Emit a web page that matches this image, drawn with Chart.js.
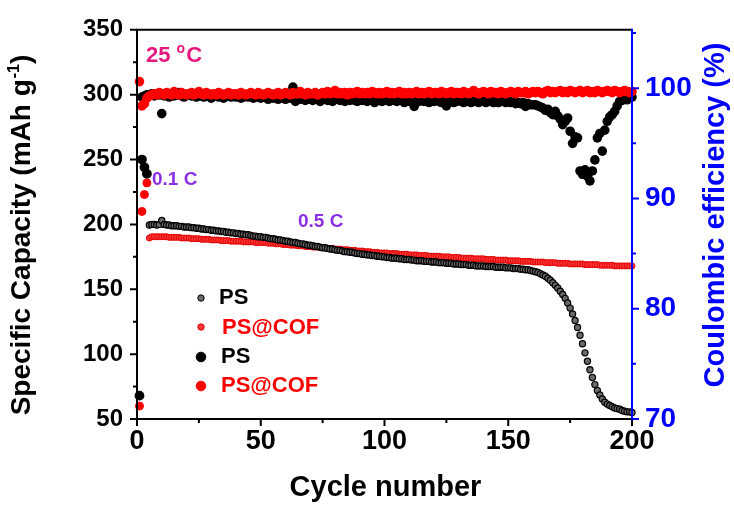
<!DOCTYPE html>
<html>
<head>
<meta charset="utf-8">
<script src="https://cdn.jsdelivr.net/npm/chart.js@4.4.0/dist/chart.umd.min.js"></script>
<style>
html,body{margin:0;padding:0;background:#fff;}
#wrap{width:734px;height:509px;position:relative;}
</style>
</head>
<body>
<div id="wrap"><canvas id="c" width="734" height="509"></canvas></div>
<script>
// ---------- DATA ----------
const cycles = Array.from({length: 200}, (_, i) => i + 1);

// Specific capacity (mAh g-1), PS
const psCapacity = [
  68, 250, 244, 239, 199.5, 200, 200, 199.5, 200, 203,
  200, 199.5, 199.5, 199, 199, 199, 198.5, 198.5, 198, 198,
  198, 197.5, 197.5, 197, 197, 196.5, 196.5, 196, 196, 195.5,
  195.5, 195, 195, 194.5, 194.5, 194, 194, 193.5, 193.5, 193,
  193, 192.5, 192.5, 192, 192, 191.5, 191, 191, 190.5, 190.5,
  190, 190, 189.5, 189, 189, 188.5, 188, 188, 187.5, 187,
  187, 186.5, 186, 186, 185.5, 185, 185, 184.5, 184, 184,
  183.5, 183, 183, 182.5, 182, 182, 181.5, 181, 181, 180.5,
  180, 180, 179.5, 179, 179, 178.5, 178.5, 178, 177.5, 177.5,
  177, 177, 176.5, 176.5, 176, 176, 175.5, 175.5, 175, 175,
  174.5, 174.5, 174, 174, 174, 173.5, 173.5, 173, 173, 173,
  172.5, 172.5, 172, 172, 172, 171.5, 171.5, 171.5, 171, 171,
  171, 170.5, 170.5, 170.5, 170, 170, 170, 169.5, 169.5, 169.5,
  169, 169, 169, 168.5, 168.5, 168.5, 168, 168, 168, 168,
  167.5, 167.5, 167.5, 167.5, 167, 167, 167, 167, 166.5, 166.5,
  166.5, 166, 166, 166, 165.5, 165.5, 165, 165, 164.5, 164,
  163.5, 163, 162, 161, 160, 158.5, 157, 155, 153, 151,
  148.5, 146, 143, 139.5, 135.5, 131, 126, 120.5, 114.5, 108,
  101, 94.5, 88, 82, 76.5, 72, 68.5, 65.5, 63, 61.5,
  60.5, 59.5, 58.5, 58, 57.5, 56.5, 56, 55.5, 55.5, 55
];

// Specific capacity (mAh g-1), PS@COF
const cofCapacity = [
  60, 210, 223, 232, 189.5, 190.5, 190.5, 190.5, 190.5, 190.5,
  190.5, 190.5, 190, 190, 190, 190, 190, 189.5, 189.5, 189.5,
  189.5, 189, 189, 189, 189, 188.5, 188.5, 188.5, 188.5, 188,
  188, 188, 188, 187.5, 187.5, 187.5, 187.5, 187, 187, 187,
  187, 187, 186.5, 186.5, 186.5, 186.5, 186.5, 186, 186, 186,
  186, 186, 185.5, 185.5, 185.5, 185, 185, 185, 184.5, 184.5,
  184.5, 184, 184, 184, 183.5, 183.5, 183.5, 183, 183, 183,
  182.5, 182.5, 182.5, 182, 182, 182, 181.5, 181.5, 181.5, 181,
  181, 181, 180.5, 180.5, 180.5, 180, 180, 180, 179.5, 179.5,
  179.5, 179, 179, 179, 178.5, 178.5, 178.5, 178, 178, 178,
  178, 177.5, 177.5, 177.5, 177.5, 177, 177, 177, 177, 176.5,
  176.5, 176.5, 176.5, 176, 176, 176, 176, 175.5, 175.5, 175.5,
  175.5, 175.5, 175, 175, 175, 175, 174.5, 174.5, 174.5, 174.5,
  174, 174, 174, 174, 174, 173.5, 173.5, 173.5, 173.5, 173.5,
  173, 173, 173, 173, 172.5, 172.5, 172.5, 172.5, 172.5, 172,
  172, 172, 172, 172, 171.5, 171.5, 171.5, 171.5, 171.5, 171,
  171, 171, 171, 171, 170.5, 170.5, 170.5, 170.5, 170.5, 170,
  170, 170, 170, 170, 169.5, 169.5, 169.5, 169.5, 169.5, 169.5,
  169, 169, 169, 169, 169, 169, 168.5, 168.5, 168.5, 168.5,
  168.5, 168.5, 168, 168, 168, 168, 168, 168, 168, 168
];

// Coulombic efficiency (%), PS
const psEfficiency = [
  null, 99.2, 99.3, 99.4, 99.4, 99.5, 99.3, 99.5, 99.4, 97.7,
  99.3, 99.4, 99.2, 99.5, 99.3, 99.4, 99.6, 99.3, 99.2, 99.4,
  99.5, 99.3, 99.4, 99.2, 99.6, 99.3, 99.2, 99.4, 99.3, 99.1,
  99.3, 99.4, 99.2, 99.3, 99.1, 99.4, 99.3, 99.2, 99.4, 99.2,
  99.3, 99.1, 99.2, 99.4, 99.2, 99.3, 99.1, 99.2, 99.3, 99.1,
  99.2, 99.3, 99.0, 99.2, 99.1, 99.3, 99.0, 99.2, 99.1, 99.0,
  99.2, 99.1, 100.1, 98.8, 99.1, 99.0, 99.2, 98.9, 99.1, 99.0,
  98.9, 99.1, 99.0, 98.8, 99.0, 99.1, 98.9, 99.0, 98.8, 99.0,
  99.1, 98.9, 99.0, 98.8, 99.0, 98.9, 99.1, 98.9, 98.8, 99.0,
  98.9, 99.0, 98.8, 99.0, 98.9, 98.7, 99.0, 98.9, 98.8, 99.0,
  98.9, 98.8, 99.0, 98.9, 98.8, 99.0, 98.9, 98.7, 98.9, 98.8,
  98.9, 98.35, 98.9, 98.8, 99.0, 98.8, 98.9, 98.7, 98.9, 98.8,
  98.9, 98.8, 98.7, 98.9, 98.4, 98.8, 98.9, 98.7, 98.8, 98.9,
  98.8, 98.7, 98.9, 98.8, 98.7, 98.9, 98.8, 98.7, 98.8, 98.9,
  98.7, 98.8, 98.9, 98.7, 98.8, 98.7, 98.8, 98.9, 98.7, 98.8,
  98.7, 98.8, 98.6, 98.7, 98.6, 98.7, 98.35, 98.6, 98.5, 98.5,
  98.5, 98.4, 98.3, 98.2, 98.0, 98.1, 97.8, 97.6, 97.9, 97.5,
  97.2, 96.7, 97.0, 97.3, 96.1, 95.0, 95.6, 95.5, 92.5, 92.2,
  92.6, 92.0, 91.6, 92.5, 93.5, 95.5, 95.9, 94.3, 96.2, 97.0,
  97.4, 97.6, 97.9, 98.4, 98.8, 98.9, 99.0, 98.95, 99.25, 99.2
];

// Coulombic efficiency (%), PS@COF
const cofEfficiency = [
  100.6, 98.4, 98.6, 99.1, 99.3, 99.4, 99.5, 99.4, 99.6, 99.5,
  99.4, 99.6, 99.5, 99.4, 99.7, 99.5, 99.4, 99.6, 99.5, 99.4,
  99.5, 99.6, 99.4, 99.5, 99.7, 99.5, 99.4, 99.6, 99.5, 99.4,
  99.5, 99.4, 99.6, 99.5, 99.4, 99.5, 99.6, 99.4, 99.5, 99.5,
  99.4, 99.6, 99.5, 99.4, 99.5, 99.6, 99.5, 99.4, 99.6, 99.5,
  99.4, 99.5, 99.6, 99.5, 99.4, 99.5, 99.6, 99.4, 99.5, 99.6,
  99.5, 99.4, 99.6, 99.5, 99.5, 99.7, 99.5, 99.4, 99.6, 99.5,
  99.5, 99.6, 99.4, 99.5, 99.6, 99.5, 99.7, 99.5, 99.6, 99.8,
  99.5, 99.6, 99.5, 99.6, 99.4, 99.6, 99.5, 99.6, 99.7, 99.5,
  99.6, 99.5, 99.6, 99.5, 99.7, 99.6, 99.5, 99.6, 99.5, 99.6,
  99.7, 99.5, 99.6, 99.5, 99.6, 99.7, 99.5, 99.6, 99.5, 99.6,
  99.5, 99.6, 99.7, 99.5, 99.6, 99.5, 99.6, 99.7, 99.5, 99.6,
  99.6, 99.5, 99.7, 99.6, 99.5, 99.6, 99.7, 99.5, 99.6, 99.6,
  99.5, 99.7, 99.6, 99.5, 99.6, 99.8, 99.6, 99.5, 99.6, 99.7,
  99.6, 99.5, 99.7, 99.6, 99.6, 99.5, 99.7, 99.6, 99.5, 99.6,
  99.7, 99.6, 99.5, 99.7, 99.6, 99.6, 99.7, 99.5, 99.6, 99.7,
  99.6, 99.7, 99.6, 99.5, 99.7, 99.8, 99.6, 99.7, 99.6, 99.7,
  99.8, 99.6, 99.7, 99.6, 99.8, 99.7, 99.6, 99.7, 99.8, 99.6,
  99.7, 99.8, 99.6, 99.7, 99.6, 99.8, 99.7, 99.6, 99.7, 99.8,
  99.7, 99.6, 99.8, 99.7, 99.6, 99.7, 99.8, 99.7, 99.6, 99.7
];

// Axis ticks
const xMajorTicks = [0, 50, 100, 150, 200];
const xMinorTicks = [25, 75, 125, 175];
const capMajorTicks = [50, 100, 150, 200, 250, 300, 350];
const capMinorTicks = [75, 125, 175, 225, 275, 325];
const ceMajorTicks = [70, 80, 90, 100];
const ceMinorTicks = [75, 85, 95, 105];

// Texts
const seriesNames = ['PS', 'PS@COF', 'PS', 'PS@COF'];
const xTitle = 'Cycle number';
const yTitleMain = 'Specific Capacity (mAh g';
const yTitleSup = '-1';
const yTitleEnd = ')';
const y2Title = 'Coulombic efficiency (%)';
const tempLabel = ['25 ', 'o', 'C'];
const rateLabels = ['0.1 C', '0.5 C'];

// ---------- CHART ----------
const FONT = '"Liberation Sans", Arial, sans-serif';
const BLUE = '#0000ff';
const RED = '#ff0000';
const PURPLE = '#8b2fe6';
const MAGENTA = '#e6177d';
const PS_BALL = '#6a6a6a';
const COF_BALL = '#ff3a3a';

const toPts = arr => cycles.map((c, i) => ({x: c, y: arr[i]})).filter(p => p.y !== null);

const deco = {
  id: 'deco',
  afterDraw(chart) {
    const {ctx, chartArea: a, scales} = chart;
    const x = scales.x, y = scales.y, y2 = scales.y2;
    ctx.save();
    // frame
    ctx.lineWidth = 2;
    ctx.strokeStyle = '#000';
    ctx.beginPath();
    ctx.moveTo(a.left, a.bottom + 1); ctx.lineTo(a.left, a.top);
    ctx.lineTo(a.right, a.top);
    ctx.moveTo(a.left - 1, a.bottom); ctx.lineTo(a.right, a.bottom);
    ctx.stroke();
    // left ticks
    ctx.beginPath();
    capMajorTicks.forEach(v => { const p = y.getPixelForValue(v); ctx.moveTo(a.left, p); ctx.lineTo(a.left - 7, p); });
    capMinorTicks.forEach(v => { const p = y.getPixelForValue(v); ctx.moveTo(a.left, p); ctx.lineTo(a.left - 4, p); });
    // bottom ticks
    xMajorTicks.forEach(v => { const p = x.getPixelForValue(v); ctx.moveTo(p, a.bottom); ctx.lineTo(p, a.bottom + 7); });
    xMinorTicks.forEach(v => { const p = x.getPixelForValue(v); ctx.moveTo(p, a.bottom); ctx.lineTo(p, a.bottom + 4); });
    ctx.stroke();
    // right axis (blue)
    ctx.strokeStyle = BLUE;
    ctx.beginPath();
    ctx.moveTo(a.right, a.top - 1); ctx.lineTo(a.right, a.bottom + 1);
    ceMajorTicks.forEach(v => { const p = y2.getPixelForValue(v); ctx.moveTo(a.right, p); ctx.lineTo(a.right + 7, p); });
    ceMinorTicks.forEach(v => { const p = y2.getPixelForValue(v); ctx.moveTo(a.right, p); ctx.lineTo(a.right + 4, p); });
    ctx.stroke();

    // x title
    ctx.fillStyle = '#000';
    ctx.font = 'bold 29px ' + FONT;
    ctx.textAlign = 'center';
    ctx.textBaseline = 'alphabetic';
    ctx.fillText(xTitle, (a.left + a.right) / 2 + 1, 496);

    // left title (rotated, with superscript)
    ctx.save();
    const fMain = 'bold 28px ' + FONT, fSup = 'bold 16px ' + FONT;
    ctx.font = fMain; const w1 = ctx.measureText(yTitleMain).width; const w3 = ctx.measureText(yTitleEnd).width;
    ctx.font = fSup; const w2 = ctx.measureText(yTitleSup).width;
    const tot = w1 + w2 + w3 + 1;
    ctx.translate(30, 235 + tot / 2);
    ctx.rotate(-Math.PI / 2);
    ctx.textAlign = 'left';
    ctx.font = fMain; ctx.fillText(yTitleMain, 0, 0);
    ctx.font = fSup; ctx.fillText(yTitleSup, w1 + 1, -11);
    ctx.font = fMain; ctx.fillText(yTitleEnd, w1 + w2 + 1, 0);
    ctx.restore();

    // right title
    ctx.save();
    ctx.fillStyle = BLUE;
    ctx.font = 'bold 29px ' + FONT;
    ctx.translate(724, 215);
    ctx.rotate(-Math.PI / 2);
    ctx.textAlign = 'center';
    ctx.fillText(y2Title, 0, 0);
    ctx.restore();

    // annotations
    ctx.textAlign = 'left';
    ctx.fillStyle = MAGENTA;
    ctx.font = 'bold 22px ' + FONT;
    let tx = 146;
    ctx.fillText(tempLabel[0], tx, 62); tx += ctx.measureText(tempLabel[0]).width;
    ctx.font = 'bold 14px ' + FONT;
    ctx.fillText(tempLabel[1], tx, 53); tx += ctx.measureText(tempLabel[1]).width + 1;
    ctx.font = 'bold 22px ' + FONT;
    ctx.fillText(tempLabel[2], tx, 62);

    ctx.fillStyle = PURPLE;
    ctx.font = 'bold 19px ' + FONT;
    ctx.fillText(rateLabels[0], 152, 185);
    ctx.fillText(rateLabels[1], 298, 227);

    // legend
    const rows = [
      {y: 298, text: seriesNames[0], tc: '#000', r: 3.2, fill: PS_BALL, stroke: '#000', ty: 304, tx: 219},
      {y: 327, text: seriesNames[1], tc: RED, r: 3.2, fill: COF_BALL, stroke: '#e00000', ty: 334, tx: 222},
      {y: 357, text: seriesNames[2], tc: '#000', r: 4.8, fill: '#000', stroke: '#000', ty: 363, tx: 221},
      {y: 386, text: seriesNames[3], tc: RED, r: 4.8, fill: RED, stroke: RED, ty: 392, tx: 221}
    ];
    ctx.font = 'bold 22px ' + FONT;
    rows.forEach(rw => {
      ctx.beginPath();
      ctx.arc(201, rw.y, rw.r, 0, Math.PI * 2);
      ctx.fillStyle = rw.fill; ctx.fill();
      ctx.lineWidth = 1; ctx.strokeStyle = rw.stroke; ctx.stroke();
      ctx.fillStyle = rw.tc;
      ctx.fillText(rw.text, rw.tx, rw.ty);
    });
    ctx.restore();
  }
};

new Chart(document.getElementById('c'), {
  type: 'scatter',
  data: {
    datasets: [
      {label: seriesNames[3], data: toPts(cofEfficiency), yAxisID: 'y2', order: 0,
       pointRadius: 4.8, pointBackgroundColor: RED, pointBorderColor: RED, pointBorderWidth: 0, clip: false},
      {label: seriesNames[2], data: toPts(psEfficiency), yAxisID: 'y2', order: 1,
       pointRadius: 4.8, pointBackgroundColor: '#000', pointBorderColor: '#000', pointBorderWidth: 0, clip: false},
      {label: seriesNames[0], data: toPts(psCapacity), yAxisID: 'y', order: 2,
       pointRadius: c => (c.dataIndex < 4 ? 4.3 : 3.1),
       pointBackgroundColor: c => (c.dataIndex < 4 ? '#000' : PS_BALL),
       pointBorderColor: '#000', pointBorderWidth: 1.2, clip: false},
      {label: seriesNames[1], data: toPts(cofCapacity), yAxisID: 'y', order: 3,
       pointRadius: c => (c.dataIndex < 4 ? 4.0 : 3.0),
       pointBackgroundColor: c => (c.dataIndex < 4 ? RED : COF_BALL),
       pointBorderColor: c => (c.dataIndex < 4 ? RED : '#e00000'), pointBorderWidth: 1, clip: false}
    ]
  },
  options: {
    responsive: false,
    animation: false,
    events: [],
    layout: {padding: {left: 0, right: 0, top: 26, bottom: 0}},
    plugins: {legend: {display: false}, tooltip: {enabled: false}},
    scales: {
      x: {
        type: 'linear', position: 'bottom', min: 0, max: 200,
        afterFit(s) { s.height = 90; },
        grid: {display: false, drawTicks: false},
        border: {display: false},
        ticks: {stepSize: 50, autoSkip: false, maxRotation: 0, padding: 6, color: '#000',
                font: {family: FONT, size: 27, weight: 'bold'}}
      },
      y: {
        type: 'linear', position: 'left', min: 50, max: 350,
        afterFit(s) { s.width = 137; },
        grid: {display: false, drawTicks: false},
        border: {display: false},
        ticks: {stepSize: 50, autoSkip: false, padding: 14, color: '#000',
                font: {family: FONT, size: 24, weight: 'bold'}}
      },
      y2: {
        type: 'linear', position: 'right', min: 70, max: 105.3,
        afterFit(s) { s.width = 102; },
        grid: {display: false, drawTicks: false},
        border: {display: false},
        ticks: {stepSize: 10, includeBounds: false, autoSkip: false, padding: 13, color: BLUE,
                font: {family: FONT, size: 28, weight: 'bold'},
                callback: v => (Math.abs(v % 10) < 1e-6 ? v : '')}
      }
    }
  },
  plugins: [deco]
});
</script>
</body>
</html>
